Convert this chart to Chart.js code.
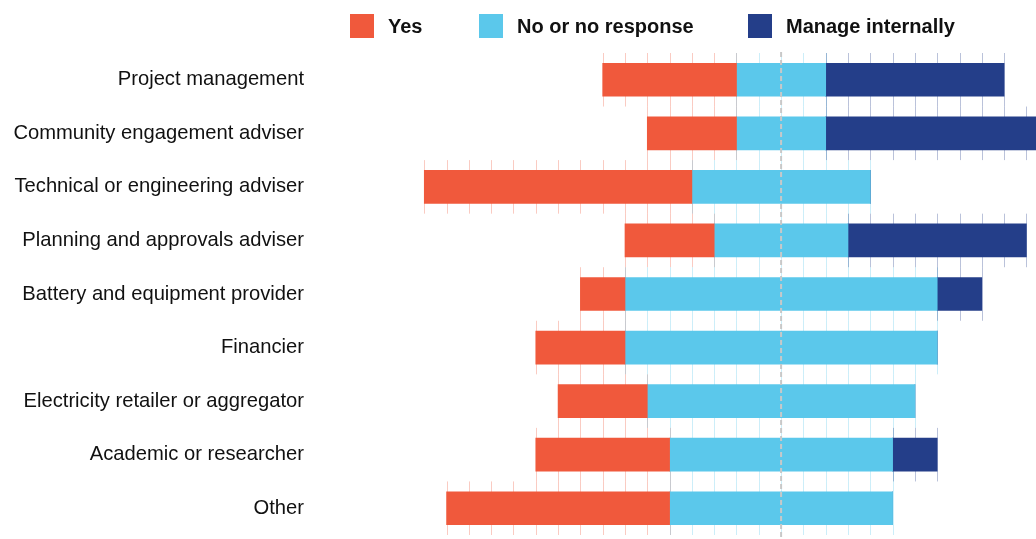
<!DOCTYPE html>
<html>
<head>
<meta charset="utf-8">
<script src="https://cdn.jsdelivr.net/npm/chart.js@4"></script>
<style>
  body { margin: 0; background: #fff; }
  #wrap { position: relative; width: 1036px; height: 539px; }
  .legend-item { position: absolute; top: 14px; display: flex; align-items: center; height: 24px;
    font-family: 'Liberation Sans', Arial, sans-serif; font-weight: bold; font-size: 20px; color: #111; }
  .legend-item span.box { width: 24px; height: 24px; margin-right: 14px; display: inline-block; }
</style>
</head>
<body>
<div id="wrap">
  <canvas id="chart"></canvas>
  <div class="legend-item" style="left:350px"><span class="box" style="background:#F0593C"></span>Yes</div>
  <div class="legend-item" style="left:479px"><span class="box" style="background:#5BC8EB"></span>No or no response</div>
  <div class="legend-item" style="left:748px"><span class="box" style="background:#243E89"></span>Manage internally</div>
</div>
<script>
// Diverging stacked bars - "No" centred on zero, "Yes" to the left, "Manage internally" to the right

const categories = ['Project management', 'Community engagement adviser', 'Technical or engineering adviser',
    'Planning and approvals adviser', 'Battery and equipment provider', 'Financier',
    'Electricity retailer or aggregator', 'Academic or researcher', 'Other'];
const yesValues = [6, 4, 12, 4, 2, 4, 4, 6, 10];
const noValues = [4, 4, 8, 6, 14, 14, 12, 10, 10];
const manageValues = [8, 10, 0, 8, 2, 0, 0, 2, 0];

const colors = { yes: '#F0593C', no: '#5BC8EB', manage: '#243E89' };

const yesRanges = yesValues.map((v, i) => [-noValues[i] / 2 - v, -noValues[i] / 2]);
const noRanges = noValues.map(v => [-v / 2, v / 2]);
const manageRanges = manageValues.map((v, i) => [noValues[i] / 2, noValues[i] / 2 + v]);

Chart.defaults.font.family = "'Liberation Sans', Arial, sans-serif";

// faint unit marks behind each segment, one per respondent
const unitLines = {
    id: 'unitLines',
    beforeDatasetsDraw(chart) {
        const { ctx, chartArea, scales: { x, y } } = chart;
        const band = y.height / categories.length;
        ctx.save();
        ctx.beginPath();
        ctx.rect(chartArea.left, 0, chartArea.width, chart.height);
        ctx.clip();
        ctx.lineWidth = 1;
        chart.data.datasets.forEach((ds, i) => {
            const meta = chart.getDatasetMeta(i);
            ctx.strokeStyle = ds.backgroundColor + '50';
            meta.data.forEach((bar, j) => {
                const [a, b] = ds.data[j];
                if (b <= a) return;
                for (let k = a; k <= b; k++) {
                    const px = Math.round(x.getPixelForValue(k)) + 0.5;
                    ctx.beginPath();
                    ctx.moveTo(px, bar.y - band / 2);
                    ctx.lineTo(px, bar.y + band / 2);
                    ctx.stroke();
                }
            });
        });
        ctx.restore();
    },
    afterDatasetsDraw(chart) {
        const { ctx, scales: { x } } = chart;
        const px = x.getPixelForValue(0);
        ctx.save();
        ctx.strokeStyle = '#c8c8c8';
        ctx.lineWidth = 2;
        ctx.setLineDash([5, 3]);
        ctx.beginPath();
        ctx.moveTo(px, 52);
        ctx.lineTo(px, chart.height);
        ctx.stroke();
        ctx.restore();
    }
};

const ctx = document.getElementById('chart').getContext('2d');
const chart = new Chart(ctx, {
    type: 'bar',
    data: {
        labels: categories,
        datasets: [
            { label: 'Yes', data: yesRanges, backgroundColor: colors.yes },
            { label: 'No or no response', data: noRanges, backgroundColor: colors.no },
            { label: 'Manage internally', data: manageRanges, backgroundColor: colors.manage }
        ]
    },
    options: {
        indexAxis: 'y',
        responsive: true,
        maintainAspectRatio: false,
        animation: false,
        grouped: false,
        barThickness: 33,
        borderSkipped: false,
        layout: { padding: { top: 53, bottom: 4, left: 0, right: 0 } },
        scales: {
            x: {
                display: false,
                min: -20.9,
                max: 11.43
            },
            y: {
                grid: { display: false, drawTicks: false },
                border: { display: false },
                ticks: {
                    color: '#111',
                    padding: 11,
                    font: { size: 20.2 }
                },
                afterFit(scale) {
                    scale.width = 315;
                    scale.paddingTop = 0;
                    scale.paddingBottom = 0;
                }
            }
        },
        plugins: {
            legend: { display: false },
            tooltip: { enabled: false }
        }
    },
    plugins: [unitLines]
});
</script>
</body>
</html>
